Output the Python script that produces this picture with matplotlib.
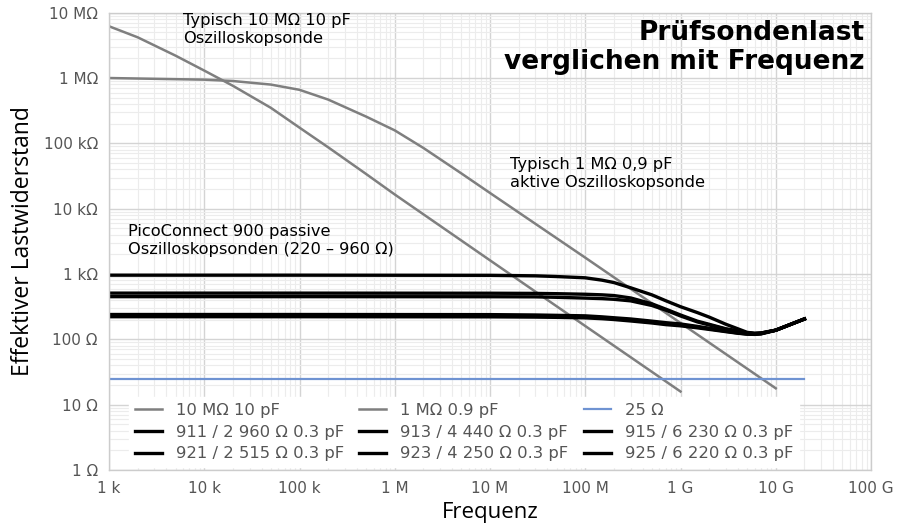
import matplotlib
matplotlib.use("Agg")
import matplotlib.pyplot as plt
from matplotlib.ticker import FixedLocator, LogLocator, NullFormatter

# Typical 10 MOhm 10 pF passive probe
f_10m = [1e3, 2e3, 5e3, 1e4, 2e4, 5e4, 1e5, 2e5, 5e5, 1e6, 1e7, 1e8, 1e9]
r_10m = [6.2e6, 4.2e6, 2.2e6, 1.3e6, 7.6e5, 3.5e5, 1.74e5, 8.7e4, 3.4e4, 1.65e4, 1.62e3, 160, 15.9]

# Typical 1 MOhm 0.9 pF active probe
f_1m = [1e3, 1e4, 2e4, 5e4, 1e5, 2e5, 5e5, 1e6, 2e6, 5e6, 1e7, 1e8, 1e9, 1e10]
r_1m = [1.0e6, 9.44e5, 9.0e5, 7.94e5, 6.6e5, 4.68e5, 2.57e5, 1.58e5, 8.5e4, 3.47e4, 1.74e4, 1.78e3, 178, 17.8]

# 25 Ohm reference
f_25 = [1e3, 2e10]
r_25 = [25, 25]

# PicoConnect 900 probes
f_pc = [1e3, 1e5, 1e7, 3e7, 5e7, 1e8, 1.5e8, 2e8, 3e8, 5e8, 7e8, 1e9, 1.5e9, 2e9, 3e9, 4e9, 5e9, 6e9, 7e9, 1e10, 2e10]
r_915 = [960, 960, 955, 938, 915, 875, 805, 740, 615, 480, 390, 316, 257, 219, 170, 145, 128, 124, 125, 138, 205]
r_913 = [510, 510, 508, 505, 500, 490, 480, 468, 430, 350, 290, 236, 190, 170, 145, 135, 126, 123, 125, 138, 205]
r_923 = [450, 450, 449, 447, 440, 428, 420, 410, 388, 330, 280, 228, 185, 166, 143, 133, 125, 122, 124, 138, 205]
r_911 = [240, 240, 239, 236, 233, 229, 221, 214, 205, 190, 180, 172, 158, 148, 135, 127, 122, 121, 123, 138, 205]
r_925 = [231, 231, 230, 228, 225, 221, 214, 208, 198, 184, 174, 166, 154, 145, 133, 125, 121, 120, 122, 138, 205]
r_921 = [222, 222, 221, 219, 217, 213, 207, 201, 191, 178, 168, 161, 150, 142, 131, 124, 120, 119, 121, 138, 205]

x_ticks = [1e3, 1e4, 1e5, 1e6, 1e7, 1e8, 1e9, 1e10, 1e11]
x_labels = ["1 k", "10 k", "100 k", "1 M", "10 M", "100 M", "1 G", "10 G", "100 G"]
y_ticks = [1, 10, 100, 1e3, 1e4, 1e5, 1e6, 1e7]
y_labels = ["1 Ω", "10 Ω", "100 Ω", "1 kΩ", "10 kΩ", "100 kΩ", "1 MΩ", "10 MΩ"]

plt.rcParams["font.family"] = ["DejaVu Sans"]

fig = plt.figure(figsize=(9.03, 5.28), dpi=100)
ax = fig.add_axes([109 / 903, 58 / 528, 762 / 903, 457.3 / 528])
ax.set_xscale("log")
ax.set_yscale("log")
ax.set_xlim(1e3, 1e11)
ax.set_ylim(1, 1e7)

ax.xaxis.set_major_locator(FixedLocator(x_ticks))
ax.set_xticklabels(x_labels)
ax.yaxis.set_major_locator(FixedLocator(y_ticks))
ax.set_yticklabels(y_labels)
ax.xaxis.set_minor_locator(LogLocator(base=10, subs=range(2, 10), numticks=20))
ax.yaxis.set_minor_locator(LogLocator(base=10, subs=range(2, 10), numticks=20))
ax.xaxis.set_minor_formatter(NullFormatter())
ax.yaxis.set_minor_formatter(NullFormatter())
ax.tick_params(which="both", length=0)
ax.tick_params(axis="x", pad=8, labelsize=11, labelcolor="#555555")
ax.tick_params(axis="y", pad=8, labelsize=11, labelcolor="#555555")

ax.grid(which="major", color="#d4d4d4", linewidth=1.0)
ax.grid(which="minor", color="#ececec", linewidth=0.8)
ax.set_axisbelow(True)
for s in ax.spines.values():
    s.set_color("#cccccc")
    s.set_linewidth(1.0)

gray = "#7f7f7f"
l1, = ax.plot(f_10m, r_10m, color=gray, lw=1.8, label="10 MΩ 10 pF")
l2, = ax.plot(f_1m, r_1m, color=gray, lw=1.8, label="1 MΩ 0.9 pF")
l3, = ax.plot(f_25, r_25, color="#6f93d2", lw=1.6, label="25 Ω")
lw_pc = 2.4
l4, = ax.plot(f_pc, r_911, color="black", lw=lw_pc, label="911 / 2 960 Ω 0.3 pF")
l5, = ax.plot(f_pc, r_913, color="black", lw=lw_pc, label="913 / 4 440 Ω 0.3 pF")
l6, = ax.plot(f_pc, r_915, color="black", lw=lw_pc, label="915 / 6 230 Ω 0.3 pF")
l7, = ax.plot(f_pc, r_921, color="black", lw=lw_pc, label="921 / 2 515 Ω 0.3 pF")
l8, = ax.plot(f_pc, r_923, color="black", lw=lw_pc, label="923 / 4 250 Ω 0.3 pF")
l9, = ax.plot(f_pc, r_925, color="black", lw=lw_pc, label="925 / 6 220 Ω 0.3 pF")

handles = [l1, l4, l7, l2, l5, l8, l3, l6, l9]
leg = ax.legend(handles=handles, ncol=3, loc="lower left",
                bbox_to_anchor=(20 / 762, 3 / 457.3), frameon=True, fontsize=11.8,
                handlelength=1.65, handletextpad=0.85, columnspacing=0.95,
                labelspacing=0.4, borderaxespad=0.0, borderpad=0.35)
leg.get_frame().set_facecolor("white")
leg.get_frame().set_edgecolor("white")
leg.get_frame().set_alpha(1.0)
leg.get_frame().set_boxstyle("square", pad=0)
for t in leg.get_texts():
    t.set_color("#555555")

ax.text(0.992, 0.985, "Prüfsondenlast\nverglichen mit Frequenz", transform=ax.transAxes,
        ha="right", va="top", fontsize=19, fontweight="bold", linespacing=1.15)
ax.text(6.0e3, 1.0e7, "Typisch 10 MΩ 10 pF\nOszilloskopsonde", ha="left", va="top",
        fontsize=11.7, linespacing=1.25)
ax.text(1.62e7, 3.5e4, "Typisch 1 MΩ 0,9 pF\naktive Oszilloskopsonde", ha="left", va="center",
        fontsize=11.7, linespacing=1.25)
ax.text(1.58e3, 3.3e3, "PicoConnect 900 passive\nOszilloskopsonden (220 – 960 Ω)", ha="left",
        va="center", fontsize=11.7, linespacing=1.25)

ax.set_xlabel("Frequenz", fontsize=16, family=["Open Sans", "DejaVu Sans"], labelpad=4)
ax.set_ylabel("Effektiver Lastwiderstand", fontsize=16.5, family=["Open Sans", "DejaVu Sans"],
              labelpad=6)

fig.savefig("out.png", dpi=100)
